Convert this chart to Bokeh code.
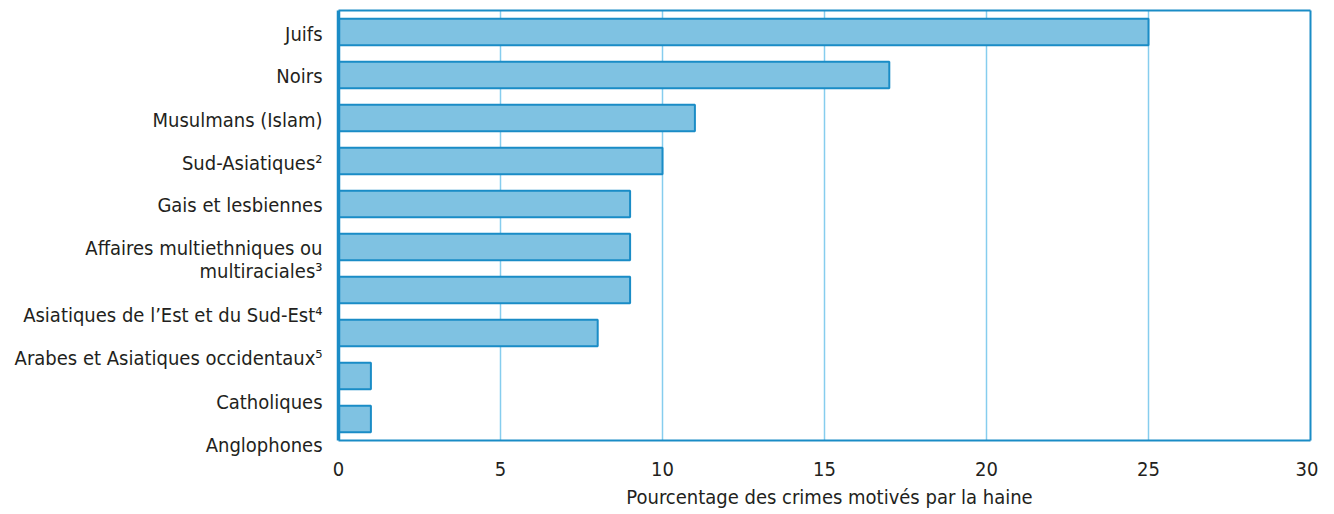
from bokeh.plotting import figure
from bokeh.models import Range1d, FixedTicker, ColumnDataSource
from bokeh.core.properties import value
from bokeh.embed import file_html
from bokeh.resources import INLINE

# ---- data ----
categories = [
    "Juifs",
    "Noirs",
    "Musulmans (Islam)",
    "Sud-Asiatiques²",
    "Gais et lesbiennes",
    "Affaires multiethniques ou\nmultiraciales³",
    "Asiatiques de l’Est et du Sud-Est⁴",
    "Arabes et Asiatiques occidentaux⁵",
    "Catholiques",
    "Anglophones",
]
values = [25, 17, 11, 10, 9, 9, 9, 8, 1, 1]
x_ticks = [0, 5, 10, 15, 20, 25, 30]
x_title = "Pourcentage des crimes motivés par la haine"

# label drift relative to bar slots (as in the original layout)
label_shift = [0.05, 0.02, 0.05, 0.05, 0.02, 0.28, 0.57, 0.57, 0.61, 0.61]

FONT = "'DejaVu Sans Condensed', 'Roboto Condensed', 'Liberation Sans Narrow', Roboto, sans-serif"
BLUE = "#1a8cc6"
FILL = "#7fc2e2"
GRID = "#86cdee"
TXT = "#231f20"

W, H = 1318, 512
LEFT, RIGHT, TOP = 338, 1310, 10     # frame box of the chart area (px)
SLOT = 43.0
N = len(values)
idx = list(range(N))
X0, X1 = x_ticks[0], x_ticks[-1]
PXU = (RIGHT - LEFT) / (X1 - X0)

p = figure(width=W, height=H, output_backend="svg", toolbar_location=None,
           x_range=Range1d(X0 - LEFT / PXU, X0 + (W - LEFT) / PXU),
           y_range=Range1d(-0.5 + (H - TOP) / SLOT, -0.5 - TOP / SLOT),
           min_border=0)
p.outline_line_color = None
p.grid.visible = False
p.yaxis.visible = False

yb, yt = N - 0.5, -0.5
# grid lines inside chart area
inner = x_ticks[1:-1]
p.segment(x0=inner, y0=[yt] * len(inner), x1=inner, y1=[yb] * len(inner),
          line_color=GRID, line_width=1.5)

p.hbar(y=idx, right=values, left=0, height=0.62, fill_color=FILL,
       line_color=BLUE, line_width=2)

# chart box: top, right, bottom, thick left
p.segment(x0=[X0, X1, X0], y0=[yt, yt, yb], x1=[X1, X1, X1], y1=[yt, yb, yb],
          line_color=BLUE, line_width=2)
p.segment(x0=[X0], y0=[yt], x1=[X0], y1=[yb], line_color=BLUE, line_width=3.5)

xa = p.xaxis[0]
xa.fixed_location = yb
xa.ticker = FixedTicker(ticks=x_ticks)
xa.axis_line_color = None
xa.major_tick_line_color = None
xa.minor_tick_line_color = None
xa.major_label_standoff = 15
xa.major_label_text_font = FONT
xa.major_label_text_font_size = "20px"
xa.major_label_text_color = TXT

# axis title, centred under the chart area
p.text(x=[(X0 + X1) / 2], y=[yb + 56 / SLOT], text=[x_title], x_offset=5,
       text_align="center", text_baseline="middle", text_font=value(FONT),
       text_font_size="20px", text_color=TXT)

LINE_H = 23 / SLOT
ly, lt = [], []
for i, name in enumerate(categories):
    lines = name.split("\n")
    n = len(lines)
    for j, line in enumerate(lines):
        ly.append(i + label_shift[i] + (j - (n - 1) / 2) * LINE_H)
        lt.append(line)
src = ColumnDataSource(dict(x=[X0] * len(lt), y=ly, t=lt))
p.text(x="x", y="y", text="t", source=src, x_offset=-16, text_align="right",
       text_baseline="middle", text_font=value(FONT),
       text_font_size="20px", text_color=TXT)

open("out.html", "w").write(file_html(p, INLINE))
